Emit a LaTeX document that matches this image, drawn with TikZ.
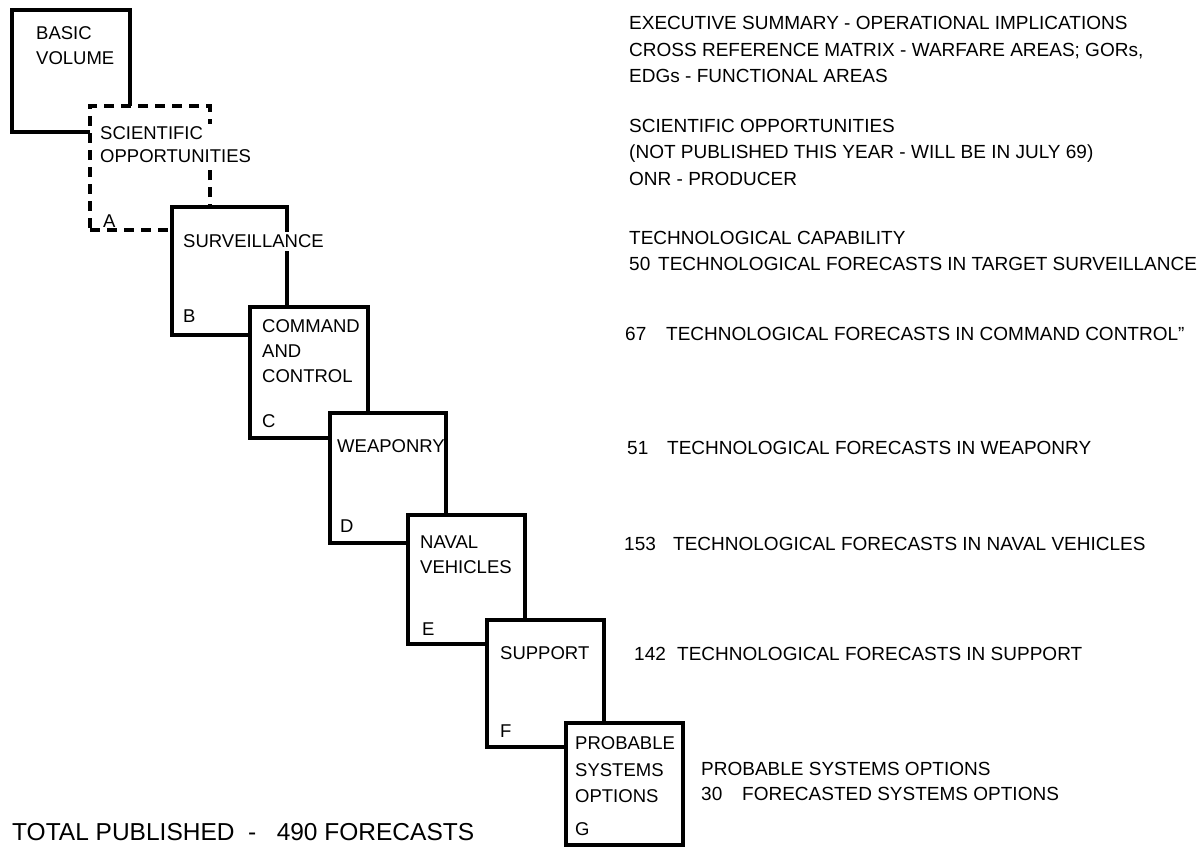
\documentclass[tikz,border=0pt]{standalone}
\usepackage{fontspec}
\setmainfont{Liberation Sans}
\newcommand{\fnum}[2]{\makebox[#2][l]{#1}}

\begin{document}
\begin{tikzpicture}[x=1pt,y=-1pt,
  volbox/.style={draw,line width=3.2pt,fill=white,inner sep=0pt,outer sep=0pt,anchor=north west},
  boxtext/.style={anchor=base west,align=left,inner sep=0pt,font=\fontsize{18.5}{25}\selectfont},
  note/.style={anchor=base west,align=left,inner sep=0pt,font=\fontsize{19}{26.5}\selectfont}]
  \useasboundingbox (0,0) rectangle (1204,848);
  % Volumes, each lying over the corner of the one before
  % (base of a text block = its last line)
  \node[volbox,minimum width=118pt,minimum height=122pt] (basic) at (12,10) {};
  \node[boxtext] (basic-t) at (36,64.5) {BASIC\\VOLUME};
  \node[volbox,dash pattern=on 10pt off 7pt,minimum width=120pt,minimum height=124pt] (sciopp) at (90,106) {};
  \node[boxtext,fill=white,inner ysep=3pt,font=\fontsize{18.5}{23}\selectfont] (sciopp-t) at (100,162.5) {SCIENTIFIC\\OPPORTUNITIES};
  \node[boxtext] (sciopp-l) at (103,227.5) {A};
  \node[volbox,minimum width=115pt,minimum height=128pt] (surv) at (172,207) {};
  \node[boxtext,fill=white,inner ysep=3pt] (surv-t) at (183,247.5) {SURVEILLANCE};
  \node[boxtext] (surv-l) at (183,322.5) {B};
  \node[volbox,minimum width=118pt,minimum height=131pt] (cmdctl) at (250,307) {};
  \node[boxtext] (cmdctl-t) at (262,382) {COMMAND\\AND\\CONTROL};
  \node[boxtext] (cmdctl-l) at (262,427.5) {C};
  \node[volbox,minimum width=116pt,minimum height=130pt] (weapons) at (330,413) {};
  \node[boxtext] (weapons-t) at (337,452.5) {WEAPONRY};
  \node[boxtext] (weapons-l) at (340,532.5) {D};
  \node[volbox,minimum width=117pt,minimum height=129pt] (naval) at (408,515) {};
  \node[boxtext] (naval-t) at (420,573.5) {NAVAL\\VEHICLES};
  \node[boxtext] (naval-l) at (422,635.5) {E};
  \node[volbox,minimum width=117pt,minimum height=127pt] (support) at (487,620) {};
  \node[boxtext] (support-t) at (500,659.5) {SUPPORT};
  \node[boxtext] (support-l) at (500,737.5) {F};
  \node[volbox,minimum width=117pt,minimum height=122pt] (options) at (566,723) {};
  \node[boxtext,font=\fontsize{18.5}{26.5}\selectfont] (options-t) at (575,802.5) {PROBABLE\\SYSTEMS\\OPTIONS};
  \node[boxtext] (options-l) at (575,835.5) {G};
  % Notes on the right
  \node[note] (summary) at (629,83) {EXECUTIVE SUMMARY - OPERATIONAL IMPLICATIONS\\CROSS REFERENCE MATRIX - WARFARE AREAS; GORs,\\EDGs - FUNCTIONAL AREAS};
  \node[note] (sciopp-n) at (629,185) {SCIENTIFIC OPPORTUNITIES\\(NOT PUBLISHED THIS YEAR - WILL BE IN JULY 69)\\ONR - PRODUCER};
  \node[note] (surv-n) at (629,270.5) {TECHNOLOGICAL CAPABILITY\\\fnum{50}{29pt}TECHNOLOGICAL FORECASTS IN TARGET SURVEILLANCE};
  \node[note] (cmdctl-n) at (625,340) {\fnum{67}{41pt}TECHNOLOGICAL FORECASTS IN COMMAND CONTROL"};
  \node[note] (weapons-n) at (627,454) {\fnum{51}{40pt}TECHNOLOGICAL FORECASTS IN WEAPONRY};
  \node[note] (naval-n) at (624,550) {\fnum{153}{49pt}TECHNOLOGICAL FORECASTS IN NAVAL VEHICLES};
  \node[note] (support-n) at (634,660) {\fnum{142}{43pt}TECHNOLOGICAL FORECASTS IN SUPPORT};
  \node[note,font=\fontsize{19}{25}\selectfont] (options-n) at (701,800) {PROBABLE SYSTEMS OPTIONS\\\fnum{30}{41pt}FORECASTED SYSTEMS OPTIONS};
  % Total
  \node[note,font=\fontsize{24.5}{30}\selectfont] (total) at (12,840) {TOTAL PUBLISHED\ \ -\ \ \ 490 FORECASTS};
\end{tikzpicture}
\end{document}
